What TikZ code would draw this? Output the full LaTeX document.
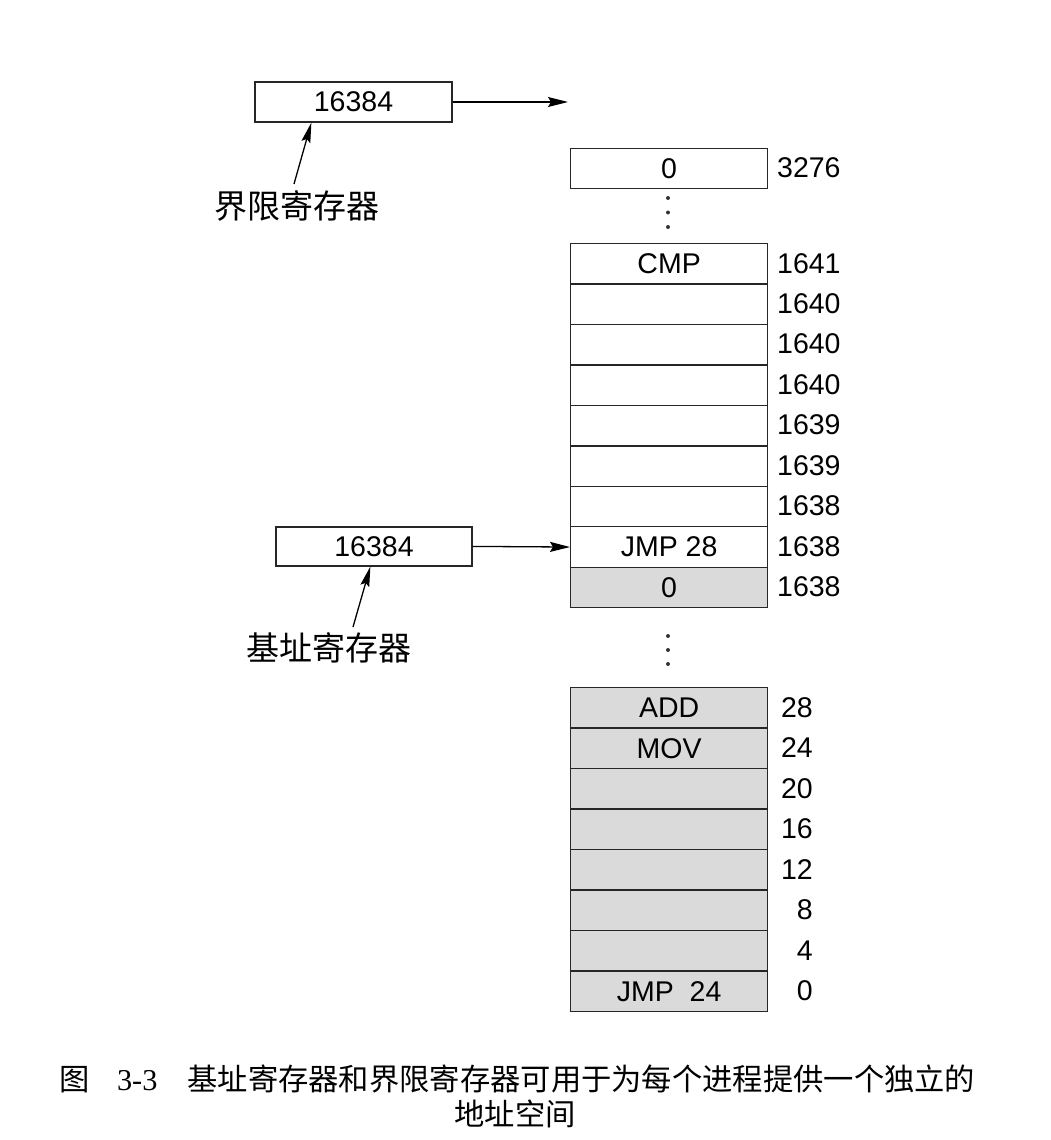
\documentclass[tikz,border=0pt]{standalone}
\usepackage{fontspec}
\setmainfont{Liberation Sans}
\newfontfamily\cjk{Noto Sans CJK SC}
\newfontfamily\capserif{Liberation Serif}
\usetikzlibrary{arrows.meta,calc}
\definecolor{cellgray}{HTML}{DADADA}
\begin{document}
\begin{tikzpicture}[x=1pt,y=-1pt,
  cell/.style={draw=black!85, line width=1.3pt, minimum width=197pt, minimum height=40.45pt, inner sep=0pt, anchor=north west, font=\fontsize{28.5}{28.5}\selectfont},
  shaded/.style={cell, fill=cellgray},
  reg/.style={draw=black!85, line width=1.3pt, minimum width=197pt, minimum height=40pt, inner sep=0pt, font=\fontsize{28.5}{28.5}\selectfont},
  lab/.style={inner sep=0pt, font=\fontsize{28.5}{28.5}\selectfont},
  cjklab/.style={inner sep=0pt, font=\cjk\fontsize{33}{33}\selectfont},
  arr/.style={line width=1.3pt, -{Stealth[length=20pt,width=10pt,inset=3pt]}},
  ptr/.style={line width=1.3pt, -{Stealth[length=20pt,width=9pt,inset=3pt]}},
  vdot/.style={circle, fill=black!80, inner sep=0pt, minimum size=4pt}]
\useasboundingbox (0,0) rectangle (1050,1140);

% limit register
\node[reg] (lim) at (353.5,102) {16384};
\coordinate (limtip) at (568,102);
\draw[arr] (lim.east) -- (limtip);
\node[cjklab] (limlab) at (297,206) {界限寄存器};
\coordinate (lp) at (294,184);
\draw[ptr] (lp) -- ([xshift=57pt]lim.south west);

% top cell
\node[cell, minimum height=40pt] (top) at (570,148) {0};
\node[lab, anchor=west] (ltop) at (777,168) {3276};
\node[vdot] (d1) at (668,198) {};
\node[vdot] (d2) at (668,212.5) {};
\node[vdot] (d3) at (668,227) {};

% upper stack
\foreach \i/\t/\a in {0/CMP/1641,1//1640,2//1640,3//1640,4//1639,5//1639,6//1638,7/JMP 28/1638}{
  \node[cell] (u\i) at (570,{243+40.45*\i}) {\t};
  \node[lab, anchor=west] (lu\i) at (777,{243+40.45*\i+20.2}) {\a};
}
\node[shaded] (u8) at (570,{243+40.45*8}) {0};
\node[lab, anchor=west] (lu8) at (777,{243+40.45*8+20.2}) {1638};

% base register
\node[reg, minimum width=196pt, minimum height=39pt] (base) at (374,546.4) {16384};
\draw[arr] (base.east) -- (u7.west);
\node[cjklab] (baselab) at (329,648) {基址寄存器};
\coordinate (bp) at (353,627);
\draw[ptr] (bp) -- ([xshift=95pt]base.south west);

\node[vdot] (d4) at (668,636) {};
\node[vdot] (d5) at (668,650) {};
\node[vdot] (d6) at (668,664) {};

% lower stack
\foreach \i/\t/\a in {0/ADD/28,1/MOV/24,2//20,3//16,4//12,5//8,6//4,7/JMP\ \ 24/0}{
  \node[shaded] (w\i) at (570,{687+40.5*\i}) {\t};
  \node[lab, anchor=east] (lw\i) at (813,{687+40.5*\i+20.2}) {\a};
}

% caption
\node[inner sep=0pt, font=\cjk\fontsize{30.3}{30.3}\selectfont] (cap1) at (517.5,1079) {图\hspace{27pt}{\capserif 3-3}\hspace{30pt}基址寄存器和界限寄存器可用于为每个进程提供一个独立的};
\node[inner sep=0pt, font=\cjk\fontsize{30.3}{30.3}\selectfont] (cap2) at (515,1114) {地址空间};
\end{tikzpicture}
\end{document}
